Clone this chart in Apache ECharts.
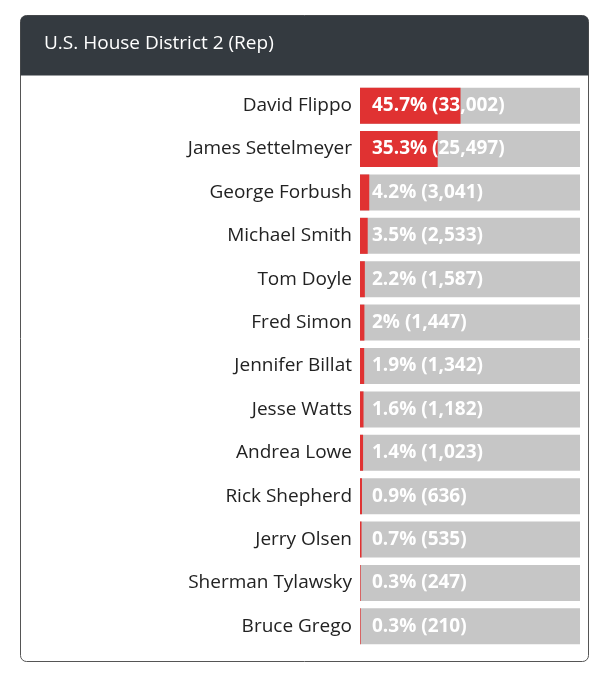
<!DOCTYPE html>
<html>
<head>
<meta charset="utf-8">
<script src="https://cdn.jsdelivr.net/npm/echarts@6/dist/echarts.min.js"></script>
<style>
  html, body { margin: 0; padding: 0; background: #fff; }
  #chart { width: 608px; height: 680px; }
</style>
</head>
<body>
<div id="chart"></div>
<script>
const candidates = ['David Flippo', 'James Settelmeyer', 'George Forbush', 'Michael Smith', 'Tom Doyle',
  'Fred Simon', 'Jennifer Billat', 'Jesse Watts', 'Andrea Lowe', 'Rick Shepherd', 'Jerry Olsen',
  'Sherman Tylawsky', 'Bruce Grego']
const percents = [45.7, 35.3, 4.2, 3.5, 2.2, 2, 1.9, 1.6, 1.4, 0.9, 0.7, 0.3, 0.3]
const votes = ['33,002', '25,497', '3,041', '2,533', '1,587', '1,447', '1,342', '1,182', '1,023', '636', '535', '247', '210']

const chart = echarts.init(document.getElementById('chart'))
const font = '"Open Sans", Lato, sans-serif'

chart.setOption({
  animation: false,
  graphic: [
    { type: 'rect', shape: { x: 20.5, y: 15.5, width: 568, height: 646, r: 6 },
      style: { fill: '#fff', stroke: '#555', lineWidth: 1 }, z: -10 },
    { type: 'rect', shape: { x: 20.5, y: 15.5, width: 568, height: 60, r: [6, 6, 0, 0] },
      style: { fill: '#343a40' }, z: -9 },
    { type: 'text', left: 44, top: 34,
      style: { text: 'U.S. House District 2 (Rep)', fill: '#fff', font: '19px ' + font }, z: -8 }
  ],
  grid: { left: 360, right: 28, top: 84, bottom: 32 },
  xAxis: { type: 'value', min: 0, max: 100, show: false },
  yAxis: {
    type: 'category', data: candidates, inverse: true,
    axisLine: { show: false }, axisTick: { show: false },
    axisLabel: { color: '#222', fontSize: 19, fontFamily: font, margin: 8 }
  },
  series: [{
    type: 'bar',
    data: percents,
    barCategoryGap: '17%',
    itemStyle: { color: '#e03232' },
    showBackground: true,
    backgroundStyle: { color: '#c6c6c6' },
    label: {
      show: true, position: 'insideLeft', distance: 12,
      color: '#fff', fontWeight: 'bold', fontSize: 19, fontFamily: font,
      formatter: p => p.value + '% (' + votes[p.dataIndex] + ')'
    }
  }]
})
</script>
</body>
</html>
